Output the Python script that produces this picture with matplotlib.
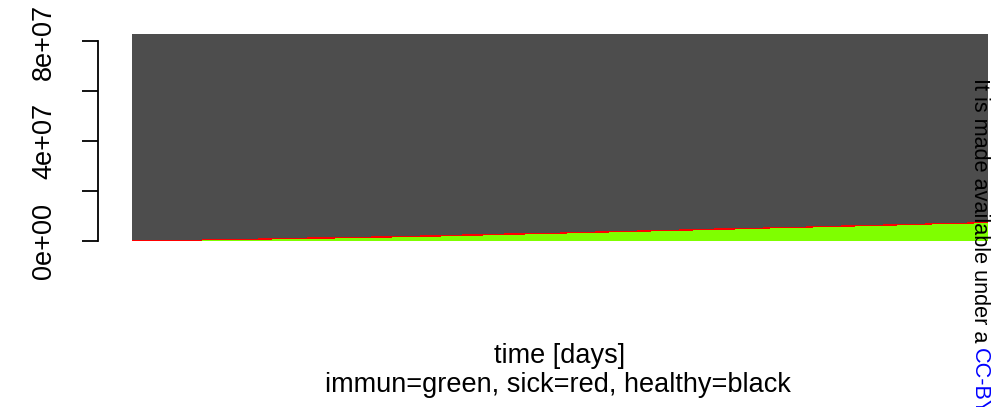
"""
Stacked bar chart of a simulated epidemic: immune, sick and healthy people
per day, drawn in the style of an R barplot.
"""

import matplotlib

matplotlib.use("Agg")
import matplotlib.pyplot as plt
import numpy as np

plt.rcParams["font.family"] = ["Liberation Sans", "DejaVu Sans"]

# Values (millions of people per day)
population = 83.0
immun = [
    0.0, 0.0, 0.05, 0.05, 0.1, 0.1, 0.15, 0.2, 0.2, 0.2,
    0.3, 0.3, 0.35, 0.4, 0.45, 0.5, 0.5, 0.55, 0.6, 0.6,
    0.7, 0.75, 0.8, 0.8, 0.85, 0.9, 0.95, 1.0, 1.0, 1.05,
    1.1, 1.2, 1.2, 1.3, 1.3, 1.35, 1.4, 1.5, 1.55, 1.6,
    1.65, 1.7, 1.8, 1.8, 1.9, 2.0, 2.05, 2.1, 2.2, 2.2,
    2.3, 2.4, 2.45, 2.5, 2.5, 2.6, 2.7, 2.75, 2.8, 2.9,
    2.9, 3.0, 3.1, 3.15, 3.2, 3.3, 3.3, 3.4, 3.5, 3.55,
    3.6, 3.7, 3.75, 3.8, 3.9, 3.95, 4.0, 4.1, 4.15, 4.2,
    4.3, 4.35, 4.4, 4.5, 4.55, 4.6, 4.7, 4.8, 4.8, 4.9,
    5.0, 5.05, 5.1, 5.2, 5.25, 5.3, 5.4, 5.45, 5.5, 5.6,
    5.7, 5.75, 5.8, 5.9, 5.95, 6.0, 6.1, 6.15, 6.2, 6.3,
    6.4, 6.45, 6.5, 6.6, 6.65, 6.7, 6.8, 6.85, 6.9, 7.0,
    7.1, 7.2,
]
sick = [
    0.3, 0.3, 0.3, 0.25, 0.3, 0.4, 0.4, 0.35, 0.3, 0.3,
    0.35, 0.4, 0.4, 0.45, 0.4, 0.4, 0.4, 0.45, 0.45, 0.5,
    0.45, 0.45, 0.5, 0.5, 0.5, 0.55, 0.5, 0.5, 0.5, 0.55,
    0.5, 0.45, 0.5, 0.5, 0.55, 0.6, 0.55, 0.5, 0.5, 0.5,
    0.55, 0.6, 0.5, 0.5, 0.5, 0.45, 0.5, 0.55, 0.5, 0.5,
    0.5, 0.5, 0.55, 0.6, 0.6, 0.55, 0.5, 0.5, 0.55, 0.5,
    0.5, 0.55, 0.5, 0.5, 0.55, 0.5, 0.55, 0.6, 0.5, 0.5,
    0.55, 0.5, 0.5, 0.5, 0.55, 0.6, 0.55, 0.5, 0.5, 0.5,
    0.55, 0.5, 0.5, 0.55, 0.5, 0.5, 0.55, 0.5, 0.5, 0.5,
    0.5, 0.55, 0.6, 0.55, 0.5, 0.5, 0.55, 0.5, 0.5, 0.55,
    0.5, 0.5, 0.55, 0.5, 0.6, 0.55, 0.5, 0.5, 0.55, 0.5,
    0.5, 0.55, 0.5, 0.5, 0.55, 0.5, 0.5, 0.55, 0.5, 0.5,
    0.55, 0.5,
]
ytick_values = [0, 20e6, 40e6, 60e6, 80e6]
ytick_labels = ["0e+00", "", "4e+07", "", "8e+07"]

immun = np.array(immun) * 1e6
sick = np.array(sick) * 1e6
healthy = population * 1e6 - immun - sick
days = np.arange(len(immun))

W, H = 993, 407
fig = plt.figure(figsize=(W / 100, H / 100), dpi=100)
ax = fig.add_axes([98 / W, 1 - 241 / H, (988 - 98) / W, (241 - 34) / H])

bar_kw = dict(width=1.0, align="edge", linewidth=0, antialiased=False)
ax.bar(days, immun, color="#7FFF00", **bar_kw)
ax.bar(days, sick, bottom=immun, color="#FF0000", **bar_kw)
ax.bar(days, healthy, bottom=immun + sick, color="#4D4D4D", **bar_kw)

# the bars start a little to the right of the y axis, as in R
offset = 34 / 856 * len(days)
ax.set_xlim(-offset, len(days))
ax.set_ylim(0, population * 1e6)

for side in ["top", "right", "bottom"]:
    ax.spines[side].set_visible(False)
ax.spines["left"].set_bounds(0, 80e6)
ax.spines["left"].set_linewidth(1.3)
ax.set_xticks([])
ax.set_yticks(ytick_values)
ax.set_yticklabels(ytick_labels, fontsize=19.5, rotation=90, va="center")
ax.tick_params(axis="y", length=11.5, width=1.3, pad=18)

fig.text(560 / W, 1 - 356 / H, "time [days]", ha="center", va="center",
         fontsize=19.5)
fig.text(558 / W, 1 - 384.5 / H, "immun=green, sick=red, healthy=black",
         ha="center", va="center", fontsize=19.5)

# licence note of the preprint page, cut by the bottom edge
note = fig.text(979 / W, 1 - 78 / H, "It is made available under a ",
                rotation=270, ha="center", va="top", fontsize=15.6,
                color="black")
fig.canvas.draw()
bb = note.get_window_extent()
fig.text(979 / W, bb.y0 / H, "CC-BY", rotation=270,
         ha="center", va="top", fontsize=15.6, color="#0000FF")

fig.savefig("out.png", dpi=100)
